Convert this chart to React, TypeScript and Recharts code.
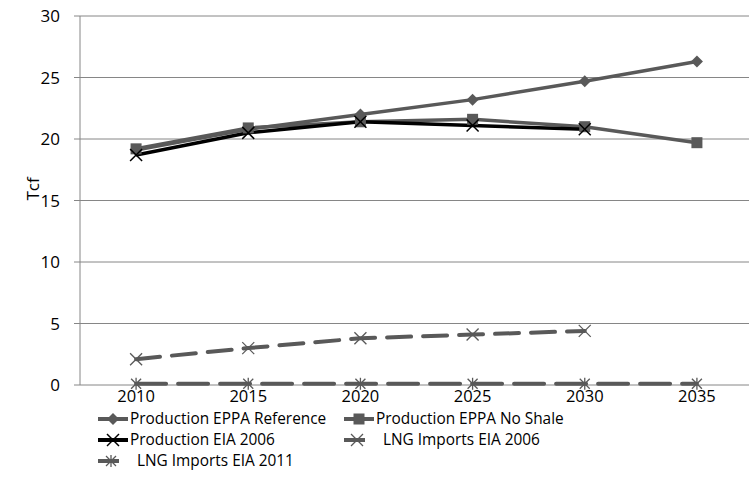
import React from 'react';
import {
  LineChart,
  Line,
  XAxis,
  YAxis,
  CartesianGrid,
} from 'recharts';

const years = ['2010', '2015', '2020', '2025', '2030', '2035'];
const eppaReference = [19.1, 20.8, 22.0, 23.2, 24.7, 26.3];
const eppaNoShale = [19.2, 20.9, 21.4, 21.6, 21.0, 19.7];
const eiaProduction2006 = [18.7, 20.5, 21.4, 21.1, 20.8, null];
const lngImports2006 = [2.1, 3.0, 3.8, 4.1, 4.4, null];
const lngImports2011 = [0.1, 0.1, 0.1, 0.1, 0.1, 0.1];
const yTicks = [0, 5, 10, 15, 20, 25, 30];

const GREY = '#595959';
const FONT = 'Open Sans, sans-serif';

// numeric x so the tick marks can sit between the categories, like Excel
const chartData = years.map((year, i) => ({
  x: i + 0.5,
  year,
  ref: eppaReference[i],
  noShale: eppaNoShale[i],
  eia06: eiaProduction2006[i],
  lng06: lngImports2006[i],
  lng11: lngImports2011[i],
}));

type MarkerKind = 'diamond' | 'square' | 'cross' | 'thinCross' | 'star';

const Marker = ({ cx, cy, kind, color }: { cx: number; cy: number; kind: MarkerKind; color: string }) => {
  if (cx == null || cy == null || Number.isNaN(cy)) return null;
  const r = 6;
  if (kind === 'diamond') {
    return <polygon points={`${cx},${cy - r} ${cx + r},${cy} ${cx},${cy + r} ${cx - r},${cy}`} fill={color} />;
  }
  if (kind === 'square') {
    return <rect x={cx - 5.5} y={cy - 5.5} width={11} height={11} fill={color} />;
  }
  if (kind === 'star') {
    return (
      <g stroke={color} strokeWidth={1.3}>
        <line x1={cx - 5} y1={cy - 5} x2={cx + 5} y2={cy + 5} />
        <line x1={cx - 5} y1={cy + 5} x2={cx + 5} y2={cy - 5} />
        <line x1={cx} y1={cy - 6} x2={cx} y2={cy + 6} />
      </g>
    );
  }
  return (
    <g stroke={color} strokeWidth={kind === 'cross' ? 1.5 : 1.3}>
      <line x1={cx - 6} y1={cy - 6} x2={cx + 6} y2={cy + 6} />
      <line x1={cx - 6} y1={cy + 6} x2={cx + 6} y2={cy - 6} />
    </g>
  );
};

const seriesDefs = [
  { key: 'ref', name: 'Production EPPA Reference', color: GREY, marker: 'diamond' as MarkerKind, dash: undefined },
  { key: 'noShale', name: 'Production EPPA No Shale', color: GREY, marker: 'square' as MarkerKind, dash: undefined },
  { key: 'eia06', name: 'Production EIA 2006', color: '#000000', marker: 'cross' as MarkerKind, dash: undefined },
  { key: 'lng06', name: 'LNG Imports EIA 2006', color: GREY, marker: 'thinCross' as MarkerKind, dash: '24 12' },
  { key: 'lng11', name: 'LNG Imports EIA 2011', color: GREY, marker: 'star' as MarkerKind, dash: '30 12' },
];

const legendPos = [
  { left: 97, top: 409 },
  { left: 343, top: 409 },
  { left: 97, top: 430 },
  { left: 343, top: 430 },
  { left: 97, top: 451 },
];

const LegendBlock = () => (
  <>
    {seriesDefs.map((s, i) => {
      const dashed = !!s.dash;
      return (
        <div
          key={s.key}
          style={{
            position: 'absolute',
            left: legendPos[i].left,
            top: legendPos[i].top,
            height: 20,
            display: 'flex',
            alignItems: 'center',
            whiteSpace: 'nowrap',
            fontFamily: FONT,
            fontSize: 15.4,
            color: '#000',
            lineHeight: '20px',
          }}
        >
          <svg width={dashed ? 38 : 31} height={16}>
            <line x1={1} y1={8} x2={dashed ? 22 : 31} y2={8} stroke={s.color} strokeWidth={4} />
            <Marker cx={dashed ? 14 : 16} cy={8} kind={s.marker} color={s.color} />
          </svg>
          <span style={{ marginLeft: 2 }}>{s.name}</span>
        </div>
      );
    })}
  </>
);

const EmptyTick = () => <g />;

export default function App() {
  return (
    <div style={{ position: 'fixed', left: 0, top: 0, width: 749, height: 504, background: '#fff' }}>
      <LineChart
        width={749}
        height={504}
        data={chartData}
        margin={{ top: 16, right: -4, left: 0, bottom: 89 }}
      >
        <CartesianGrid vertical={false} stroke="#868686" strokeWidth={1} />
        <XAxis
          xAxisId="ticks"
          dataKey="x"
          type="number"
          domain={[0, 6]}
          ticks={[0, 1, 2, 3, 4, 5, 6]}
          tick={<EmptyTick />}
          stroke="#868686"
          tickSize={5}
          height={0}
        />
        <XAxis
          xAxisId="labels"
          dataKey="x"
          type="number"
          domain={[0, 6]}
          ticks={chartData.map(d => d.x)}
          tickFormatter={(v: number) => years[Math.floor(v)]}
          axisLine={false}
          tickLine={false}
          tickSize={0}
          tick={{ fill: '#000', fontSize: 16.5, fontFamily: FONT }}
          tickMargin={5}
          height={30}
        />
        <YAxis
          domain={[0, 30]}
          ticks={yTicks}
          stroke="#868686"
          tickSize={6}
          tick={{ fill: '#000', fontSize: 17, fontFamily: FONT }}
          tickMargin={14}
          width={80}
          label={{ value: 'Tcf', angle: -90, position: 'insideLeft', offset: 33, style: { fill: '#000', fontSize: 17, fontFamily: FONT } }}
        />
        {seriesDefs.map(s => (
          <Line
            key={s.key}
            xAxisId="ticks"
            dataKey={s.key}
            name={s.name}
            stroke={s.color}
            strokeWidth={s.dash ? 4 : 3.5}
            strokeDasharray={s.dash}
            strokeLinecap={s.dash ? 'round' : 'butt'}
            type="linear"
            dot={(p: any) => <Marker key={`${s.key}-${p.index}`} cx={p.cx} cy={p.cy} kind={s.marker} color={s.color} />}
            activeDot={false}
            isAnimationActive={false}
          />
        ))}
      </LineChart>
      <LegendBlock />
    </div>
  );
}
